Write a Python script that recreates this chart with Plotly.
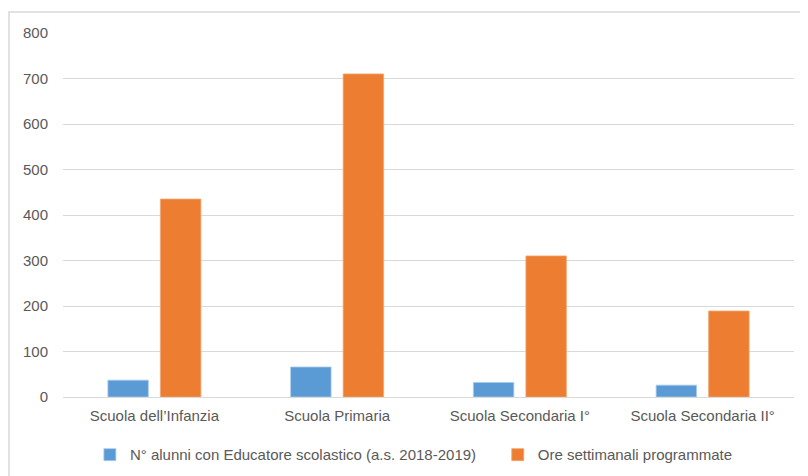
import plotly.graph_objects as go

categories = ["Scuola dell’Infanzia", "Scuola Primaria", "Scuola Secondaria I°", "Scuola Secondaria II°"]
alunni = [37, 66, 32, 26]
ore = [435, 710, 310, 189]

BLUE = "#5B9BD5"
ORANGE = "#ED7D31"
GRID = "#D9D9D9"
TEXT = "#595959"

fig = go.Figure()
fig.add_trace(
    go.Bar(
        x=categories,
        y=alunni,
        # trailing nbsp widen the gap between the two legend entries
        name="N° alunni con Educatore scolastico (a.s. 2018-2019)\u00a0\u00a0\u00a0\u00a0",
        marker=dict(color=BLUE, line=dict(color="#A9CBEB", width=0.8)),
    )
)
fig.add_trace(
    go.Bar(
        x=categories,
        y=ore,
        name="Ore settimanali programmate",
        marker=dict(color=ORANGE, line=dict(color="#F3A570", width=0.8)),
    )
)

# light outer frame, cut at right/bottom like the source image
fig.add_shape(
    type="rect", xref="paper", yref="paper",
    x0=-0.0739, x1=1.2, y0=-0.5, y1=1.0577,
    line=dict(color=GRID, width=1.5), layer="below",
)

# page body has an 8px margin, so the figure is sized/placed to compensate
fig.update_layout(
    width=800,
    height=468,
    barmode="group",
    bargap=0.425,
    bargroupgap=0.23,
    margin=dict(l=55, r=14, t=25, b=79, autoexpand=False),
    paper_bgcolor="white",
    plot_bgcolor="white",
    font=dict(family="Liberation Sans", size=15, color=TEXT),
    xaxis=dict(
        showgrid=False,
        showline=False,
        ticklabelstandoff=8,
        tickfont=dict(size=15),
    ),
    yaxis=dict(
        range=[0, 800],
        dtick=100,
        gridcolor=GRID,
        gridwidth=1,
        zeroline=True,
        zerolinecolor=GRID,
        zerolinewidth=1,
        ticklabelstandoff=14,
        tickfont=dict(size=15),
    ),
    legend=dict(
        orientation="h",
        x=0.48,
        xanchor="center",
        y=-0.159,
        yanchor="middle",
        font=dict(size=15),
        itemwidth=30,
        tracegroupgap=0,
    ),
)

fig.write_html("out.html")
